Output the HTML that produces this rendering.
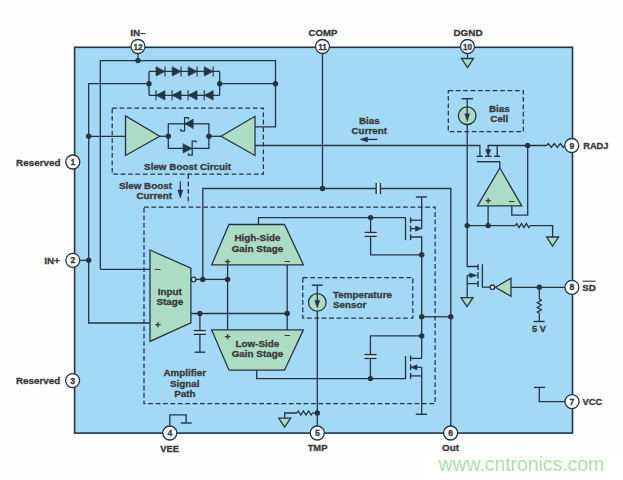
<!DOCTYPE html>
<html><head><meta charset="utf-8"><title>Block diagram</title>
<style>
html,body{margin:0;padding:0;background:#fff;}
body{width:623px;height:480px;overflow:hidden;}
svg{display:block;}
svg text{font-family:"Liberation Sans",Arial,Helvetica,sans-serif;font-weight:bold;fill:#38393d;stroke:#38393d;stroke-width:0.3px;}
</style></head><body>
<svg width="623" height="480" viewBox="0 0 623 480">
<rect x="0" y="0" width="623" height="480" fill="#fefefe"/>
<rect x="423" y="454" width="200" height="26" fill="#fff"/>
<rect x="74.6" y="47.3" width="497.9" height="385.8" fill="#a4d9f5" stroke="#233545" stroke-width="1.6"/>
<g fill="none" stroke="#233545" stroke-width="1.3" stroke-linejoin="miter">
<polyline points="138,53 138,60.6" />
<polyline points="100.3,269.3 100.3,60.6 275.5,60.6 275.5,126.9 255,126.9" />
<line x1="100.3" y1="269.3" x2="155" y2="269.3" />
<circle cx="138" cy="60.6" r="2.7" fill="#233545" stroke="none"/>
<polyline points="149,83.7 88.7,83.7 88.7,323 155,323" />
<line x1="80" y1="260.3" x2="88.7" y2="260.3" />
<circle cx="88.7" cy="260.3" r="2.7" fill="#233545" stroke="none"/>
<line x1="88.7" y1="136.3" x2="125.5" y2="136.3" />
<circle cx="88.7" cy="136.3" r="2.7" fill="#233545" stroke="none"/>
<polyline points="149,71.4 149,95.3" />
<polyline points="219.7,71.4 219.7,95.3" />
<line x1="149" y1="71.4" x2="219.7" y2="71.4" />
<line x1="149" y1="95.3" x2="219.7" y2="95.3" />
<line x1="219.7" y1="83.7" x2="275.5" y2="83.7" />
<circle cx="149" cy="83.7" r="2.7" fill="#233545" stroke="none"/>
<circle cx="219.7" cy="83.7" r="2.7" fill="#233545" stroke="none"/>
<circle cx="275.5" cy="83.7" r="2.7" fill="#233545" stroke="none"/>
<polygon points="156.0,66.7 156.0,76.10000000000001 165.0,71.4" fill="#233545" stroke-width="0.6"/>
<line x1="165.0" y1="66.4" x2="165.0" y2="76.4" stroke-width="1.15"/>
<polygon points="165.0,90.6 165.0,100.0 156.0,95.3" fill="#233545" stroke-width="0.6"/>
<line x1="156.0" y1="90.3" x2="156.0" y2="100.3" stroke-width="1.15"/>
<polygon points="172.1,66.7 172.1,76.10000000000001 181.1,71.4" fill="#233545" stroke-width="0.6"/>
<line x1="181.1" y1="66.4" x2="181.1" y2="76.4" stroke-width="1.15"/>
<polygon points="181.1,90.6 181.1,100.0 172.1,95.3" fill="#233545" stroke-width="0.6"/>
<line x1="172.1" y1="90.3" x2="172.1" y2="100.3" stroke-width="1.15"/>
<polygon points="188.1,66.7 188.1,76.10000000000001 197.1,71.4" fill="#233545" stroke-width="0.6"/>
<line x1="197.1" y1="66.4" x2="197.1" y2="76.4" stroke-width="1.15"/>
<polygon points="197.1,90.6 197.1,100.0 188.1,95.3" fill="#233545" stroke-width="0.6"/>
<line x1="188.1" y1="90.3" x2="188.1" y2="100.3" stroke-width="1.15"/>
<polygon points="204.2,66.7 204.2,76.10000000000001 213.2,71.4" fill="#233545" stroke-width="0.6"/>
<line x1="213.2" y1="66.4" x2="213.2" y2="76.4" stroke-width="1.15"/>
<polygon points="213.2,90.6 213.2,100.0 204.2,95.3" fill="#233545" stroke-width="0.6"/>
<line x1="204.2" y1="90.3" x2="204.2" y2="100.3" stroke-width="1.15"/>
<rect x="112.2" y="108.2" width="151.2" height="66" stroke-dasharray="4.8,2.6" stroke-width="1.25"/>
<polygon points="125.5,116 125.5,155.5 159.7,136.3" fill="#acdcc4" />
<polygon points="255,116.3 255,155.5 221,136.3" fill="#acdcc4" />
<line x1="159.7" y1="136.3" x2="168.3" y2="136.3" />
<line x1="208.9" y1="136.3" x2="221" y2="136.3" />
<rect x="168.3" y="123.8" width="40.6" height="24.6"/>
<circle cx="168.3" cy="136.3" r="2.7" fill="#233545" stroke="none"/>
<circle cx="208.9" cy="136.3" r="2.7" fill="#233545" stroke="none"/>
<polygon points="193.2,119.1 193.2,128.5 184.7,123.8" fill="#233545" stroke-width="0.6"/>
<polyline points="188.4,119.2 188.4,117.5 184.6,117.5 184.6,130.8 180.8,130.8 180.8,129" stroke-width="1.25"/>
<polygon points="183,143.7 183,153.1 192,148.4" fill="#233545" stroke-width="0.6"/>
<polyline points="196,142.7 196,141 192.2,141 192.2,155 188.4,155 188.4,153.2" stroke-width="1.25"/>
<polyline points="255,145.5 479.9,145.5 479.9,156.3" />
<line x1="188.3" y1="174.2" x2="188.3" y2="204" stroke-dasharray="4.8,2.6" stroke-width="1.25"/>
<line x1="180.3" y1="181.5" x2="180.3" y2="192" />
<polygon points="177.8,190 182.8,190 180.3,198" fill="#233545" stroke-width="0.5"/>
<line x1="366" y1="139.4" x2="377.5" y2="139.4" />
<polygon points="367.5,136.9 367.5,141.9 360,139.4" fill="#233545" stroke-width="0.5"/>
<rect x="144" y="207.2" width="291.1" height="196.4" stroke-dasharray="4.8,2.6" stroke-width="1.25"/>
<rect x="376.2" y="183" width="4.2" height="11" fill="#d3ecf9" stroke="none"/>
<rect x="364.6" y="232.5" width="12.1" height="3.8" fill="#d3ecf9" stroke="none"/>
<rect x="364.4" y="354.6" width="12.1" height="3.8" fill="#d3ecf9" stroke="none"/>
<rect x="193.8" y="330.6" width="12.1" height="3.7" fill="#d3ecf9" stroke="none"/>
<polyline points="322.5,53 322.5,188.5" />
<circle cx="322.5" cy="188.5" r="2.7" fill="#233545" stroke="none"/>
<polyline points="202.8,279.2 202.8,188.5 376.2,188.5" />
<line x1="376.2" y1="183" x2="376.2" y2="194" stroke-width="1.4"/>
<line x1="380.4" y1="183" x2="380.4" y2="194" stroke-width="1.4"/>
<polyline points="380.4,188.5 450.8,188.5 450.8,426" />
<polygon points="150,250 190.9,268.2 190.9,322.9 150,341.4" fill="#acdcc4" />
<circle cx="193.6" cy="279.4" r="2.2" fill="#f4fafd" stroke-width="1.35"/>
<line x1="196" y1="279.4" x2="227.7" y2="279.4" />
<circle cx="202.8" cy="279.4" r="2.7" fill="#233545" stroke="none"/>
<circle cx="227.6" cy="279.4" r="2.7" fill="#233545" stroke="none"/>
<line x1="227.6" y1="264.8" x2="227.6" y2="330" />
<line x1="287.2" y1="264.8" x2="287.2" y2="330" />
<line x1="190.9" y1="313.5" x2="287.2" y2="313.5" />
<circle cx="199.9" cy="313.5" r="2.7" fill="#233545" stroke="none"/>
<circle cx="287.2" cy="313.5" r="2.7" fill="#233545" stroke="none"/>
<line x1="199.9" y1="313.5" x2="199.9" y2="330.6" />
<line x1="193.8" y1="330.6" x2="205.9" y2="330.6" stroke-width="1.4"/>
<line x1="193.8" y1="334.3" x2="205.9" y2="334.3" stroke-width="1.4"/>
<line x1="199.9" y1="334.3" x2="199.9" y2="352.2" />
<line x1="194.6" y1="352.2" x2="205.2" y2="352.2" stroke-width="1.4"/>
<polygon points="229,224.5 284.5,224.5 303.4,264.8 211.7,264.8" fill="#acdcc4" />
<polygon points="211.7,329.9 303.4,329.9 284.5,370.2 229,370.2" fill="#acdcc4" />
<polyline points="258.5,224.5 258.5,217.6 405.5,217.6 405.5,240.2" />
<circle cx="370.6" cy="217.6" r="2.7" fill="#233545" stroke="none"/>
<polyline points="256.7,370.2 256.7,378.6 405.5,378.6 405.5,355.9" />
<circle cx="370.4" cy="378.6" r="2.7" fill="#233545" stroke="none"/>
<line x1="370.6" y1="217.6" x2="370.6" y2="232.5" />
<line x1="364.6" y1="232.5" x2="376.7" y2="232.5" stroke-width="1.4"/>
<line x1="364.6" y1="236.3" x2="376.7" y2="236.3" stroke-width="1.4"/>
<polyline points="370.6,236.3 370.6,254.8 421.7,254.8" />
<line x1="415.8" y1="197" x2="427" y2="197" stroke-width="1.4"/>
<polyline points="421.7,197 421.7,229" />
<line x1="421.7" y1="220.2" x2="410.6" y2="220.2" />
<line x1="410.6" y1="217.4" x2="410.6" y2="223.2" stroke-width="1.4"/>
<line x1="410.6" y1="225.6" x2="410.6" y2="231.6" stroke-width="1.4"/>
<line x1="410.6" y1="234.4" x2="410.6" y2="240.2" stroke-width="1.4"/>
<line x1="410.6" y1="228.6" x2="416" y2="228.6" />
<polygon points="415.5,226 415.5,231.2 421.7,228.6" fill="#233545" stroke-width="0.5"/>
<polyline points="410.6,237 421.7,237 421.7,358.4" />
<circle cx="421.7" cy="254.8" r="2.7" fill="#233545" stroke="none"/>
<circle cx="421.7" cy="316.8" r="2.7" fill="#233545" stroke="none"/>
<circle cx="421.7" cy="335.9" r="2.7" fill="#233545" stroke="none"/>
<line x1="421.7" y1="316.8" x2="450.8" y2="316.8" />
<circle cx="450.8" cy="316.8" r="2.7" fill="#233545" stroke="none"/>
<polyline points="421.7,335.8 370.4,335.8 370.4,354.6" />
<line x1="364.4" y1="354.6" x2="376.5" y2="354.6" stroke-width="1.4"/>
<line x1="364.4" y1="358.4" x2="376.5" y2="358.4" stroke-width="1.4"/>
<line x1="370.4" y1="358.4" x2="370.4" y2="378.6" />
<line x1="410.6" y1="355.5" x2="410.6" y2="361.3" stroke-width="1.4"/>
<line x1="410.6" y1="364.2" x2="410.6" y2="370.2" stroke-width="1.4"/>
<line x1="410.6" y1="373" x2="410.6" y2="378.8" stroke-width="1.4"/>
<polyline points="410.6,358.4 421.7,358.4" />
<line x1="416" y1="367.3" x2="421.7" y2="367.3" />
<polygon points="417,364.7 417,369.9 410.8,367.3" fill="#233545" stroke-width="0.5"/>
<polyline points="410.6,375.9 421.7,375.9" />
<line x1="421.7" y1="367.3" x2="421.7" y2="414.3" />
<line x1="415.8" y1="414.3" x2="427" y2="414.3" stroke-width="1.4"/>
<rect x="302.8" y="277.6" width="110" height="40.5" stroke-dasharray="4.8,2.6" stroke-width="1.25"/>
<line x1="311.8" y1="285.2" x2="322.8" y2="285.2" stroke-width="1.4"/>
<circle cx="317.3" cy="302.4" r="8.8" fill="#acdcc4"/>
<line x1="317.3" y1="285.2" x2="317.3" y2="302" />
<line x1="317.3" y1="311.2" x2="317.3" y2="426" />
<polygon points="314.9,300.4 319.7,300.4 317.3,308" fill="#233545" stroke-width="0.5"/>
<circle cx="317.3" cy="413" r="2.7" fill="#233545" stroke="none"/>
<polyline points="317.3,413 312.4,413" />
<polyline points="297,413 298.28,411 300.85,415 303.42,411 305.98,415 308.55,411 311.12,415 312.4,413" />
<polyline points="297,413 284.7,413 284.7,418.2" />
<polygon points="278.7,418.2 290.7,418.2 284.7,427.2" fill="#acdcc4" />
<rect x="448.3" y="90.6" width="75" height="41.1" stroke-dasharray="4.8,2.6" stroke-width="1.25"/>
<line x1="461.7" y1="98.7" x2="473" y2="98.7" stroke-width="1.4"/>
<circle cx="467.2" cy="115.7" r="8.8" fill="#acdcc4"/>
<line x1="467.2" y1="98.7" x2="467.2" y2="115.4" />
<polyline points="467.2,124.5 467.2,266.5 478,266.5" />
<polygon points="464.8,113.8 469.6,113.8 467.2,121.4" fill="#233545" stroke-width="0.5"/>
<line x1="467.5" y1="53" x2="467.5" y2="58.5" />
<polygon points="461.5,58.5 473.5,58.5 467.5,67.5" fill="#acdcc4" />
<line x1="476.7" y1="156.3" x2="482.8" y2="156.3" stroke-width="1.4"/>
<line x1="485" y1="156.3" x2="491.5" y2="156.3" stroke-width="1.4"/>
<line x1="494" y1="156.3" x2="500" y2="156.3" stroke-width="1.4"/>
<line x1="476.7" y1="161.7" x2="500" y2="161.7" stroke-width="1.4"/>
<line x1="499.8" y1="161.7" x2="499.8" y2="168" />
<polyline points="488.2,150 488.2,145.5 546.8,145.5" />
<polygon points="485.6,149.5 490.8,149.5 488.2,156.3" fill="#233545" stroke-width="0.5"/>
<line x1="497.2" y1="145.5" x2="497.2" y2="156.3" />
<circle cx="527.6" cy="145.5" r="2.7" fill="#233545" stroke="none"/>
<polyline points="546.8,145.5 548.3,143.5 551.3,147.5 554.3,143.5 557.3,147.5 560.3,143.5 563.3,147.5 564.8,145.5" />
<polygon points="499.8,168 521.8,205.9 477.5,205.9" fill="#acdcc4" />
<line x1="488.1" y1="205.9" x2="488.1" y2="225.6" />
<polyline points="511.8,205.9 511.8,215.2 527.7,215.2 527.7,145.5" />
<line x1="467.2" y1="225.6" x2="515.4" y2="225.6" />
<circle cx="467.2" cy="225.6" r="2.7" fill="#233545" stroke="none"/>
<circle cx="488.1" cy="225.6" r="2.7" fill="#233545" stroke="none"/>
<polyline points="515.4,225.6 516.62,223.6 519.05,227.6 521.48,223.6 523.92,227.6 526.35,223.6 528.78,227.6 530,225.6" />
<polyline points="530,225.6 552.6,225.6 552.6,237" />
<polygon points="546.6,237 558.6,237 552.6,246" fill="#acdcc4" />
<line x1="478" y1="264.2" x2="478" y2="270" stroke-width="1.4"/>
<line x1="478" y1="272.2" x2="478" y2="278.6" stroke-width="1.4"/>
<line x1="478" y1="280.8" x2="478" y2="287" stroke-width="1.4"/>
<polyline points="482.4,264.2 482.4,287.2 490.2,287.2" />
<line x1="467.2" y1="275.4" x2="473" y2="275.4" />
<polygon points="469.6,273 469.6,277.8 477,275.4" fill="#233545" stroke-width="0.5"/>
<line x1="467.2" y1="275.4" x2="467.2" y2="297.7" />
<line x1="467.2" y1="283.6" x2="478" y2="283.6" />
<polygon points="461.0,297.7 473.0,297.7 467,306.7" fill="#acdcc4" />
<circle cx="492.4" cy="287.2" r="2.2" fill="#f4fafd" stroke-width="1.35"/>
<polygon points="495.4,287.2 511,278.2 511,296.3" fill="#acdcc4" />
<line x1="511" y1="287.3" x2="565" y2="287.3" />
<circle cx="539.3" cy="287.3" r="2.7" fill="#233545" stroke="none"/>
<line x1="539.3" y1="287.3" x2="539.3" y2="299.1" />
<polyline points="539.3,299.1 541.3,300.28 537.3,302.65 541.3,305.02 537.3,307.38 541.3,309.75 537.3,312.12 539.3,313.3" />
<line x1="539.3" y1="313.3" x2="539.3" y2="321.5" />
<line x1="533.7" y1="321.5" x2="544.7" y2="321.5" stroke-width="1.4"/>
<line x1="534" y1="387.4" x2="545" y2="387.4" stroke-width="1.4"/>
<polyline points="539.3,387.4 539.3,401.7 565,401.7" />
<polyline points="169.8,426 169.8,414.9 186.1,414.9 186.1,423" />
<line x1="180.8" y1="423" x2="191.7" y2="423" stroke-width="1.4"/>
</g>
<circle cx="138" cy="46.5" r="7" fill="#fff" stroke="#233545" stroke-width="1.3"/>
<text x="138" y="49.5" text-anchor="middle" font-size="8.2" fill="#38393d">12</text>
<circle cx="322.5" cy="46.5" r="7" fill="#fff" stroke="#233545" stroke-width="1.3"/>
<text x="322.5" y="49.5" text-anchor="middle" font-size="8.2" fill="#38393d">11</text>
<circle cx="467.5" cy="46.5" r="7" fill="#fff" stroke="#233545" stroke-width="1.3"/>
<text x="467.5" y="49.5" text-anchor="middle" font-size="8.2" fill="#38393d">10</text>
<circle cx="72.8" cy="162" r="7" fill="#fff" stroke="#233545" stroke-width="1.3"/>
<text x="72.8" y="165" text-anchor="middle" font-size="8.6" fill="#38393d">1</text>
<circle cx="72.8" cy="260.3" r="7" fill="#fff" stroke="#233545" stroke-width="1.3"/>
<text x="72.8" y="263.3" text-anchor="middle" font-size="8.6" fill="#38393d">2</text>
<circle cx="72.6" cy="380.6" r="7" fill="#fff" stroke="#233545" stroke-width="1.3"/>
<text x="72.6" y="383.6" text-anchor="middle" font-size="8.6" fill="#38393d">3</text>
<circle cx="571.8" cy="145.5" r="7" fill="#fff" stroke="#233545" stroke-width="1.3"/>
<text x="571.8" y="148.5" text-anchor="middle" font-size="8.6" fill="#38393d">9</text>
<circle cx="571.9" cy="287.3" r="7" fill="#fff" stroke="#233545" stroke-width="1.3"/>
<text x="571.9" y="290.3" text-anchor="middle" font-size="8.6" fill="#38393d">8</text>
<circle cx="572" cy="401.6" r="7" fill="#fff" stroke="#233545" stroke-width="1.3"/>
<text x="572" y="404.6" text-anchor="middle" font-size="8.6" fill="#38393d">7</text>
<circle cx="169.8" cy="433" r="7" fill="#fff" stroke="#233545" stroke-width="1.3"/>
<text x="169.8" y="436" text-anchor="middle" font-size="8.6" fill="#38393d">4</text>
<circle cx="317.3" cy="433" r="7" fill="#fff" stroke="#233545" stroke-width="1.3"/>
<text x="317.3" y="436" text-anchor="middle" font-size="8.6" fill="#38393d">5</text>
<circle cx="450.6" cy="433" r="7" fill="#fff" stroke="#233545" stroke-width="1.3"/>
<text x="450.6" y="436" text-anchor="middle" font-size="8.6" fill="#38393d">6</text>
<text transform="translate(138,35.5) scale(1.06,1)" text-anchor="middle" font-size="9.3" >IN–</text>
<text transform="translate(323,35.5) scale(1.06,1)" text-anchor="middle" font-size="9.11" >COMP</text>
<text transform="translate(468,35.5) scale(1.06,1)" text-anchor="middle" font-size="9.3" >DGND</text>
<text transform="translate(60.5,165.6) scale(1.06,1)" text-anchor="end" font-size="9.3" >Reserved</text>
<text transform="translate(59.8,263.8) scale(1.06,1)" text-anchor="end" font-size="9.3" >IN+</text>
<text transform="translate(60.3,384.4) scale(1.06,1)" text-anchor="end" font-size="9.3" >Reserved</text>
<text transform="translate(583.2,148.9) scale(1.06,1)" text-anchor="start" font-size="8.74" >RADJ</text>
<text transform="translate(582.3,290.7) scale(1.06,1)" text-anchor="start" font-size="9.3" >SD</text>
<text transform="translate(582.6,405.3) scale(1.06,1)" text-anchor="start" font-size="8.84" >VCC</text>
<line x1="582.5" y1="281.2" x2="595.7" y2="281.2" stroke="#38393d" stroke-width="1.1"/>
<text transform="translate(169.6,451.8) scale(1.06,1)" text-anchor="middle" font-size="8.84" >VEE</text>
<text transform="translate(317.5,451.1) scale(1.06,1)" text-anchor="middle" font-size="8.84" >TMP</text>
<text transform="translate(450.6,451.1) scale(1.06,1)" text-anchor="middle" font-size="9.3" >Out</text>
<text transform="translate(187.6,170.2) scale(1.06,1)" text-anchor="middle" font-size="9.3" >Slew Boost Circuit</text>
<text transform="translate(172,188.9) scale(1.06,1)" text-anchor="end" font-size="9.3" >Slew Boost</text>
<text transform="translate(172,199.2) scale(1.06,1)" text-anchor="end" font-size="9.3" >Current</text>
<text transform="translate(369.3,123.6) scale(1.06,1)" text-anchor="middle" font-size="9.3" >Bias</text>
<text transform="translate(369.3,133.6) scale(1.06,1)" text-anchor="middle" font-size="9.3" >Current</text>
<text transform="translate(499.3,111.8) scale(1.06,1)" text-anchor="middle" font-size="9.3" >Bias</text>
<text transform="translate(499.3,121.9) scale(1.06,1)" text-anchor="middle" font-size="9.3" >Cell</text>
<text transform="translate(257.4,241.4) scale(1.06,1)" text-anchor="middle" font-size="9.3" >High-Side</text>
<text transform="translate(257.4,251.8) scale(1.06,1)" text-anchor="middle" font-size="9.3" >Gain Stage</text>
<text transform="translate(257.4,347.1) scale(1.06,1)" text-anchor="middle" font-size="9.3" >Low-Side</text>
<text transform="translate(257.4,357.4) scale(1.06,1)" text-anchor="middle" font-size="9.3" >Gain Stage</text>
<text transform="translate(169.8,294.8) scale(1.06,1)" text-anchor="middle" font-size="9.3" >Input</text>
<text transform="translate(169.8,305.0) scale(1.06,1)" text-anchor="middle" font-size="9.3" >Stage</text>
<text transform="translate(184.8,376.4) scale(1.06,1)" text-anchor="middle" font-size="9.3" >Amplifier</text>
<text transform="translate(184.8,386.6) scale(1.06,1)" text-anchor="middle" font-size="9.3" >Signal</text>
<text transform="translate(184.8,396.6) scale(1.06,1)" text-anchor="middle" font-size="9.3" >Path</text>
<text transform="translate(333,297.5) scale(1.06,1)" text-anchor="start" font-size="9.3" >Temperature</text>
<text transform="translate(333,307.8) scale(1.06,1)" text-anchor="start" font-size="9.3" >Sensor</text>
<text transform="translate(539,332.3) scale(1.06,1)" text-anchor="middle" font-size="8.74" >5 V</text>
<text transform="translate(157.8,272.4) scale(1.06,1)" text-anchor="middle" font-size="9.3" >–</text>
<text transform="translate(157.8,327.8) scale(1.06,1)" text-anchor="middle" font-size="9.3" >+</text>
<text transform="translate(227.7,264.6) scale(1.06,1)" text-anchor="middle" font-size="9.3" >+</text>
<text transform="translate(287.2,263.5) scale(1.06,1)" text-anchor="middle" font-size="9.3" >–</text>
<text transform="translate(227.7,339.5) scale(1.06,1)" text-anchor="middle" font-size="9.3" >+</text>
<text transform="translate(287.2,337.8) scale(1.06,1)" text-anchor="middle" font-size="9.3" >–</text>
<text transform="translate(488.1,204.2) scale(1.06,1)" text-anchor="middle" font-size="9.3" >+</text>
<text transform="translate(511.8,203.7) scale(1.06,1)" text-anchor="middle" font-size="9.3" >–</text>
<text x="438.6" y="470.6" text-anchor="start" font-size="19.35" style="font-weight:normal;fill:#b3deac;stroke:none">www.cntronics.com</text>
</svg></body></html>
